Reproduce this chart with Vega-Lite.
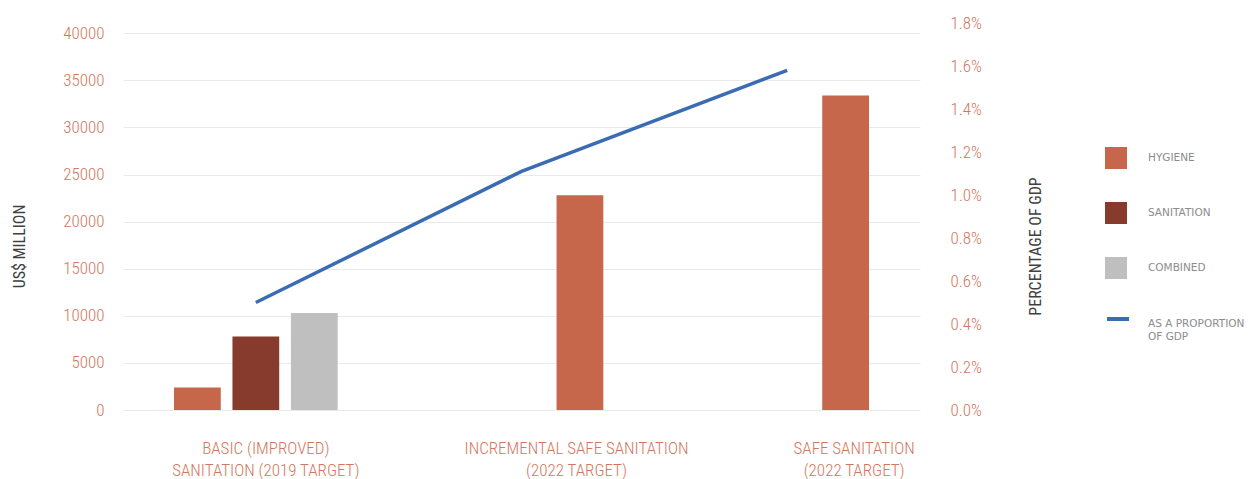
{
  "$schema": "https://vega.github.io/schema/vega-lite/v6.json",
  "width": 797,
  "height": 387,
  "autosize": {"type": "none"},
  "padding": {"left": 123, "top": 23, "right": 331, "bottom": 69},
  "background": "white",
  "config": {
    "view": {"stroke": null},
    "font": "Roboto Condensed, DejaVu Sans Condensed, sans-serif",
    "axis": {
      "labelFont": "Roboto Condensed, DejaVu Sans Condensed, sans-serif",
      "titleFont": "Roboto Condensed, DejaVu Sans Condensed, sans-serif",
      "labelFontWeight": 300,
      "labelColor": "#D2765C",
      "titleColor": "#404040",
      "titleFontWeight": "normal",
      "ticks": false,
      "tickSize": 0,
      "domain": false,
      "grid": false
    },
    "legend": {
      "labelFont": "DejaVu Sans, sans-serif",
      "labelFontSize": 10.5,
      "labelColor": "#8C8C8C"
    }
  },
  "datasets": {
    "bars": [
      {"category": "BASIC (IMPROVED)\nSANITATION (2019 TARGET)", "slot": "1", "series": "HYGIENE", "value": 2400},
      {"category": "BASIC (IMPROVED)\nSANITATION (2019 TARGET)", "slot": "2", "series": "SANITATION", "value": 7800},
      {"category": "BASIC (IMPROVED)\nSANITATION (2019 TARGET)", "slot": "3", "series": "COMBINED", "value": 10300},
      {"category": "INCREMENTAL SAFE SANITATION\n(2022 TARGET)", "slot": "3", "series": "HYGIENE", "value": 22800},
      {"category": "SAFE SANITATION\n(2022 TARGET)", "slot": "3", "series": "HYGIENE", "value": 33400}
    ],
    "gdp": [
      {"category": "BASIC (IMPROVED)\nSANITATION (2019 TARGET)", "series": "AS A PROPORTION OF GDP", "share": 0.005},
      {"category": "INCREMENTAL SAFE SANITATION\n(2022 TARGET)", "series": "AS A PROPORTION OF GDP", "share": 0.0111},
      {"category": "SAFE SANITATION\n(2022 TARGET)", "series": "AS A PROPORTION OF GDP", "share": 0.0158}
    ]
  },
  "layer": [
    {
      "data": {"name": "bars"},
      "mark": {"type": "bar"},
      "encoding": {
        "x": {
          "field": "category",
          "type": "nominal",
          "sort": null,
          "scale": {
            "domain": ["BASIC (IMPROVED)\nSANITATION (2019 TARGET)", "INCREMENTAL SAFE SANITATION\n(2022 TARGET)", "SAFE SANITATION\n(2022 TARGET)"],
            "paddingInner": 0.34,
            "paddingOuter": 0.17
          },
          "axis": {
            "title": null,
            "labelAngle": 0,
            "labelFontSize": 17,
            "labelPadding": 30,
            "labelLineHeight": 22,
            "labelLimit": 400,
            "labelExpr": "split(datum.label, '\\n')",
            "labelOffset": {
              "condition": [
                {"test": "indexof(datum.value, 'INCREMENTAL') >= 0", "value": 55},
                {"test": "indexof(datum.value, 'SAFE SANITATION') == 0", "value": 67}
              ],
              "value": 10
            }
          }
        },
        "xOffset": {
          "field": "slot",
          "type": "nominal",
          "scale": {"domain": ["1", "2", "3"], "paddingInner": 0.2, "paddingOuter": 0.1}
        },
        "y": {
          "field": "value",
          "type": "quantitative",
          "scale": {"domain": [0, 41094], "nice": false},
          "axis": {
            "title": "US$ MILLION",
            "values": [0, 5000, 10000, 15000, 20000, 25000, 30000, 35000, 40000],
            "format": "d",
            "grid": true,
            "gridColor": "#EAEAEA",
            "gridWidth": 1,
            "labelFontSize": 17,
            "labelPadding": 19,
            "titleFontSize": 16,
            "titleAngle": 270,
            "titleX": -104,
            "titleY": 223,
            "titleBaseline": "middle",
            "titleAlign": "center"
          }
        },
        "fill": {
          "field": "series",
          "type": "nominal",
          "scale": {"domain": ["HYGIENE", "SANITATION", "COMBINED"], "range": ["#C6664A", "#873B2C", "#BFBFBF"]},
          "legend": {
            "title": null,
            "orient": "none",
            "legendX": 982,
            "legendY": 124,
            "symbolType": "square",
            "symbolSize": 484,
            "symbolStrokeWidth": 0,
            "rowPadding": 33,
            "labelOffset": 21
          }
        }
      }
    },
    {
      "data": {"name": "gdp"},
      "mark": {"type": "line", "strokeWidth": 3.5},
      "encoding": {
        "x": {"field": "category", "type": "nominal", "sort": null},
        "y": {
          "field": "share",
          "type": "quantitative",
          "scale": {"domain": [0, 0.018], "nice": false},
          "axis": {
            "orient": "right",
            "title": "PERCENTAGE OF GDP",
            "values": [0, 0.002, 0.004, 0.006, 0.008, 0.01, 0.012, 0.014, 0.016, 0.018],
            "format": ".1%",
            "labelFontSize": 17,
            "labelPadding": 30,
            "titleFontSize": 16,
            "titleAngle": 270,
            "titleX": 115,
            "titleY": 223,
            "titleBaseline": "middle",
            "titleAlign": "center"
          }
        },
        "stroke": {
          "field": "series",
          "type": "nominal",
          "scale": {"domain": ["AS A PROPORTION OF GDP"], "range": ["#3A6CB3"]},
          "legend": {
            "title": null,
            "orient": "none",
            "legendX": 982,
            "legendY": 283,
            "symbolType": "stroke",
            "symbolSize": 484,
            "symbolStrokeWidth": 4,
            "labelOffset": 17,
            "labelBaseline": "top",
            "labelLineHeight": 15,
            "labelLimit": 200,
            "labelExpr": "[slice(datum.label, 0, 15), slice(datum.label, 16)]"
          }
        }
      }
    }
  ],
  "resolve": {"scale": {"y": "independent"}}
}
